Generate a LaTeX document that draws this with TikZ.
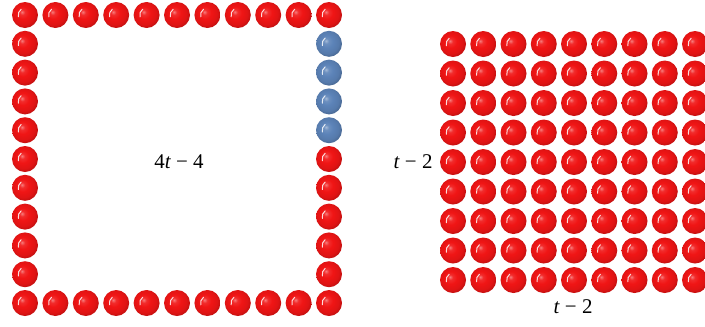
\documentclass[tikz,border=0pt]{standalone}
\usepackage{fontspec}
\setmainfont{Liberation Serif}
\usepackage{tikz}
\usetikzlibrary{positioning}
\definecolor{rojob}{HTML}{F01515}
\definecolor{azulb}{HTML}{5C83B8}
\pgfdeclareradialshading{bolaroja}{\pgfpoint{-6bp}{6bp}}{color(0bp)=(rojob!55!white); color(5bp)=(rojob!90!white); color(12bp)=(rojob); color(22bp)=(rojob!93!black); color(27bp)=(rojob!82!black); color(50bp)=(rojob!82!black)}
\pgfdeclareradialshading{bolaazul}{\pgfpoint{-6bp}{6bp}}{color(0bp)=(azulb!55!white); color(5bp)=(azulb!90!white); color(12bp)=(azulb); color(22bp)=(azulb!93!black); color(27bp)=(azulb!82!black); color(50bp)=(azulb!82!black)}

\begin{document}
\begin{tikzpicture}[
    x=1bp, y=-1bp,
    bola/.style={circle, inner sep=0pt, minimum size=26bp, shade, shading=bolaroja,
        path picture={\draw[white, opacity=0.85, line width=1bp, line cap=round]
            ([shift={(-6.6bp,-1.8bp)}]path picture bounding box.center)
            arc[start angle=195, end angle=125, radius=7bp];}},
    bolaazul/.style={bola, shading=bolaazul},
    etiqueta/.style={font=\fontsize{21}{24}\selectfont, inner sep=0pt}
]
\useasboundingbox (0,0) rectangle (705,326);

\foreach \i in {0,...,10} {
    \node (arriba\i) [bola] at (25+30.4*\i, 15) {};
    \node (abajo\i) [bola] at (25+30.4*\i, 303) {};
}
\foreach \j in {1,...,9} {
    \node (izq\j) [bola] at (25, 15+28.8*\j) {};
}
\foreach \j in {1,...,4} {
    \node (der\j) [bolaazul] at (329, 15+28.8*\j) {};
}
\foreach \j in {5,...,9} {
    \node (der\j) [bola] at (329, 15+28.8*\j) {};
}

\node (borde) [etiqueta] at (179,162) {4\textit{t} − 4};

\foreach \i in {0,...,8} {
    \foreach \j in {0,...,8} {
        \node (c\i-\j) [bola] at (453+30.25*\i, 44+29.5*\j) {};
    }
}

\node (alto) [etiqueta] at (413,162) {\textit{t} − 2};
\node (ancho) [etiqueta] at (573,307) {\textit{t} − 2};

\end{tikzpicture}
\end{document}
